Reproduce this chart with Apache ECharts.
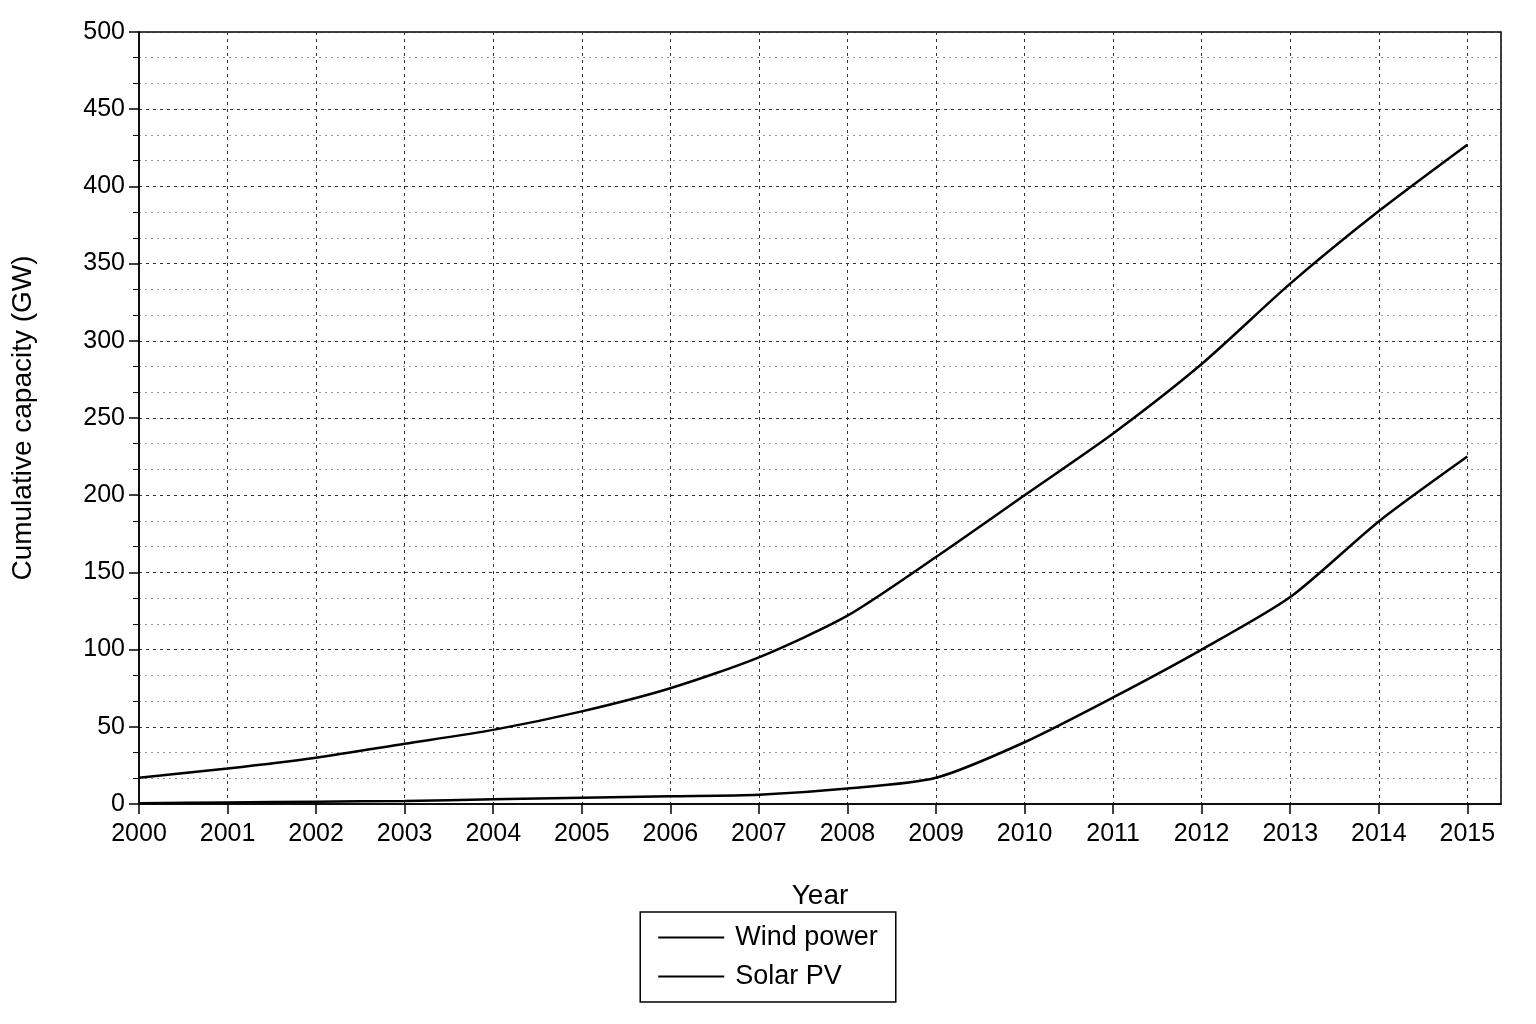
<!DOCTYPE html>
<html><head><meta charset="utf-8">
<script src="https://cdn.jsdelivr.net/npm/echarts@6/dist/echarts.min.js"></script>
<style>html,body{margin:0;background:#fff}#c{width:1536px;height:1024px}</style>
</head><body><div id="c"></div>
<script>
const years = [2000,2001,2002,2003,2004,2005,2006,2007,2008,2009,2010,2011,2012,2013,2014,2015];
const windPower = [17,23,30,39,48,60,75,95,122,160,200,240,285,337,384,427];
const solarPV = [0.5,1,1.5,2,3,4,5,6,10,17,40,69,100,134,183,225];
const F = 'Liberation Sans, Arial, sans-serif';
const chart = echarts.init(document.getElementById('c'));
chart.setOption({
  animation:false,
  grid:{left:139,right:35,top:32,bottom:220,show:true,borderColor:'#000',borderWidth:1.5,backgroundColor:'transparent'},
  legend:{bottom:22,left:'center',orient:'vertical',data:['Wind power','Solar PV'],
    borderColor:'#000',borderWidth:1.5,padding:[12,18,12,18],itemGap:12,itemWidth:66,itemHeight:2,
    icon:'rect',textStyle:{fontFamily:F,fontSize:27,color:'#000',padding:[0,0,0,6]}},
  xAxis:{type:'value',min:2000,max:2015.38,interval:1,name:'Year',nameLocation:'middle',nameGap:78,
    nameTextStyle:{fontFamily:F,fontSize:28,color:'#000'},
    axisLine:{lineStyle:{color:'#000',width:1.5}},axisTick:{length:10,lineStyle:{color:'#000',width:1.5}},
    axisLabel:{fontFamily:F,fontSize:25,color:'#000',margin:18,showMaxLabel:false,formatter:v=>String(v)},
    splitLine:{lineStyle:{color:'#333',type:[3,4],width:1}}},
  yAxis:{type:'value',min:0,max:500,interval:50,name:'Cumulative capacity (GW)',nameLocation:'middle',nameGap:102,
    nameTextStyle:{fontFamily:F,fontSize:28,color:'#000'},
    axisLine:{lineStyle:{color:'#000',width:1.5}},axisTick:{length:10,lineStyle:{color:'#000',width:1.5}},
    minorTick:{show:true,splitNumber:3,length:6,lineStyle:{color:'#000'}},
    minorSplitLine:{show:true,lineStyle:{color:'#999',type:[2,4],width:1}},
    axisLabel:{fontFamily:F,fontSize:25,color:'#000',margin:14},
    splitLine:{lineStyle:{color:'#333',type:[3,4],width:1}}},
  series:[
    {name:'Wind power',type:'line',data:years.map((y,i)=>[y,windPower[i]]),showSymbol:false,smooth:0.25,
      lineStyle:{color:'#000',width:2.5},itemStyle:{color:'#000'}},
    {name:'Solar PV',type:'line',data:years.map((y,i)=>[y,solarPV[i]]),showSymbol:false,smooth:0.25,
      lineStyle:{color:'#000',width:2.5},itemStyle:{color:'#000'}}
  ]
});
</script></body></html>
